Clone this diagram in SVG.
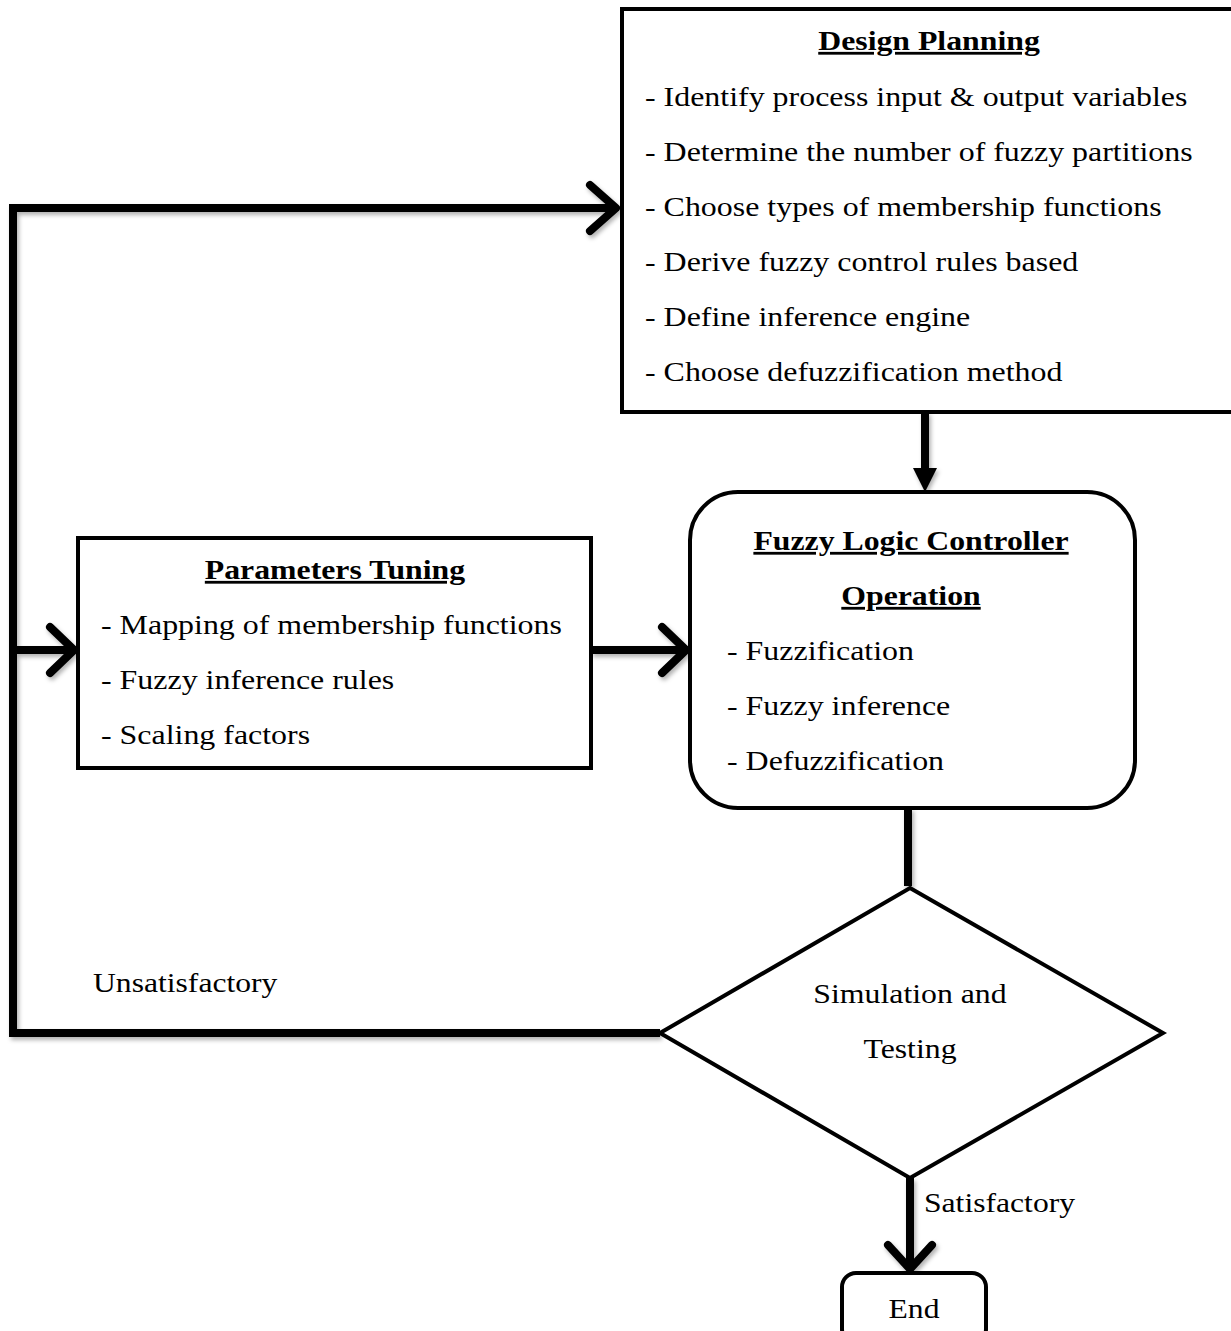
<svg xmlns="http://www.w3.org/2000/svg" width="1231" height="1331" viewBox="0 0 1231 1331">
<style>
text{font-family:"Liberation Serif","Times New Roman",serif;font-size:28px;fill:#000}
.t{font-weight:bold;text-decoration:underline;text-anchor:middle}
.c{text-anchor:middle}
.box{fill:#fff;stroke:#000;stroke-width:4}
.ln{fill:none;stroke:#000;stroke-width:8;stroke-linejoin:miter}
.chev{fill:none;stroke:#000;stroke-width:8;stroke-linecap:round;stroke-linejoin:round}
</style>
<defs>
<filter id="sh" x="-10%" y="-10%" width="130%" height="130%"><feDropShadow dx="2" dy="3" stdDeviation="2" flood-opacity="0.3"/></filter>
</defs>
<g id="connectors" filter="url(#sh)">
<polyline class="ln" points="660,1033 13,1033 13,208 616,208"/>
<polyline class="chev" points="590,185 616,208 590,231"/>
<line class="ln" x1="13" y1="650" x2="74" y2="650"/>
<polyline class="chev" points="50,627 74,650 50,673"/>
<line class="ln" x1="591" y1="650" x2="686" y2="650"/>
<polyline class="chev" points="662,627 686,650 662,673"/>
<line class="ln" x1="925" y1="412" x2="925" y2="472"/>
<polygon points="913,468 937,468 925,492" fill="#000"/>
<line class="ln" x1="908" y1="808" x2="908" y2="886"/>
<line class="ln" x1="910" y1="1178" x2="910" y2="1269"/>
<polyline class="chev" points="888,1245 910,1269 932,1245"/>
</g>
<g id="design-planning">
<rect class="box" x="622" y="9" width="611" height="403"/>
<text class="t" transform="translate(929,50) scale(1.135,1)">Design Planning</text>
<text transform="translate(645,106) scale(1.14,1)">- Identify process input &amp; output variables</text>
<text transform="translate(645,161) scale(1.14,1)">- Determine the number of fuzzy partitions</text>
<text transform="translate(645,216) scale(1.14,1)">- Choose types of membership functions</text>
<text transform="translate(645,271) scale(1.14,1)">- Derive fuzzy control rules based</text>
<text transform="translate(645,326) scale(1.14,1)">- Define inference engine</text>
<text transform="translate(645,381) scale(1.14,1)">- Choose defuzzification method</text>
</g>
<g id="parameters-tuning">
<rect class="box" x="78" y="538" width="513" height="230"/>
<text class="t" transform="translate(335,579) scale(1.135,1)">Parameters Tuning</text>
<text transform="translate(101,634) scale(1.14,1)">- Mapping of membership functions</text>
<text transform="translate(101,689) scale(1.14,1)">- Fuzzy inference rules</text>
<text transform="translate(101,744) scale(1.14,1)">- Scaling factors</text>
</g>
<g id="flc-operation">
<rect class="box" x="690" y="492" width="445" height="316" rx="48" ry="48"/>
<text class="t" transform="translate(911,550) scale(1.135,1)">Fuzzy Logic Controller</text>
<text class="t" transform="translate(911,605) scale(1.135,1)">Operation</text>
<text transform="translate(727,660) scale(1.14,1)">- Fuzzification</text>
<text transform="translate(727,715) scale(1.14,1)">- Fuzzy inference</text>
<text transform="translate(727,770) scale(1.14,1)">- Defuzzification</text>
</g>
<g id="simulation-testing">
<polygon class="box" points="910,888 1163,1033 910,1178 660,1033"/>
<text class="c" transform="translate(910,1003) scale(1.135,1)">Simulation and</text>
<text class="c" transform="translate(910,1058) scale(1.135,1)">Testing</text>
</g>
<g id="labels">
<text transform="translate(93,992) scale(1.13,1)">Unsatisfactory</text>
<text transform="translate(924,1212) scale(1.13,1)">Satisfactory</text>
</g>
<g id="end">
<rect class="box" x="842" y="1273" width="144" height="70" rx="14" ry="14"/>
<text class="c" transform="translate(914,1318) scale(1.13,1)">End</text>
</g>
</svg>
